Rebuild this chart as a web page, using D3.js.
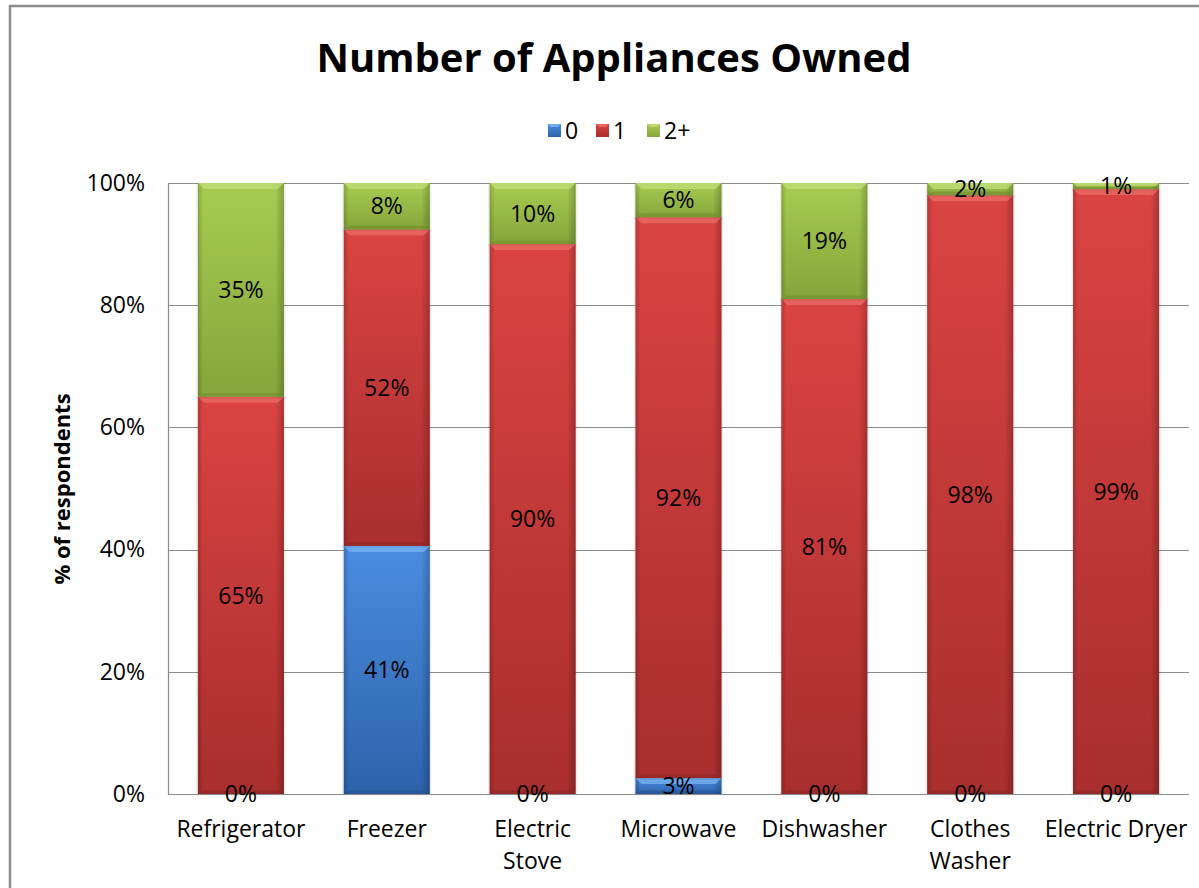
<!DOCTYPE html>
<html>
<head>
<meta charset="utf-8">
<script src="https://cdn.jsdelivr.net/npm/d3@7/dist/d3.min.js"></script>
<style>
  html, body { margin: 0; padding: 0; background: #fff; }
  svg { display: block; font-family: "Open Sans", Lato, sans-serif; }
</style>
</head>
<body>
<svg id="chart" width="1199" height="888"></svg>
<script>
// ---- data ----
const categories = ["Refrigerator", "Freezer", "Electric Stove", "Microwave", "Dishwasher", "Clothes Washer", "Electric Dryer"];
const categoryLines = [["Refrigerator"], ["Freezer"], ["Electric", "Stove"], ["Microwave"], ["Dishwasher"], ["Clothes", "Washer"], ["Electric Dryer"]];
const seriesNames = ["0", "1", "2+"];
const values0 = [0.000, 0.406, 0.000, 0.026, 0.000, 0.000, 0.000];
const values1 = [0.650, 0.518, 0.900, 0.918, 0.810, 0.980, 0.990];
const values2 = [0.350, 0.076, 0.100, 0.056, 0.190, 0.020, 0.010];
const yTicks = [0, 0.2, 0.4, 0.6, 0.8, 1.0];

const W = 1199, H = 888;
const FONT = 23;
const svg = d3.select("#chart");
const defs = svg.append("defs");

const palette = {
  "0":  { light: "#4a8de0", dark: "#2c62aa", top: "#7ab6f4", bottom: "#244f8a" },
  "1":  { light: "#da4442", dark: "#a92e2e", top: "#ec6e69", bottom: "#8a2424" },
  "2+": { light: "#a8cc52", dark: "#86a53a", top: "#c2df7c", bottom: "#6d8a2c" }
};

seriesNames.forEach((s, i) => {
  const c = palette[s];
  const g = defs.append("linearGradient").attr("id", "vg" + i)
    .attr("x1", 0).attr("y1", 0).attr("x2", 0).attr("y2", 1);
  g.append("stop").attr("offset", "0%").attr("stop-color", c.light);
  g.append("stop").attr("offset", "100%").attr("stop-color", c.dark);
});
const hg = defs.append("linearGradient").attr("id", "hshade")
  .attr("x1", 0).attr("y1", 0).attr("x2", 1).attr("y2", 0);
hg.append("stop").attr("offset", "0%").attr("stop-color", "#000").attr("stop-opacity", 0.18);
hg.append("stop").attr("offset", "6%").attr("stop-color", "#000").attr("stop-opacity", 0.0);
hg.append("stop").attr("offset", "90%").attr("stop-color", "#000").attr("stop-opacity", 0.0);
hg.append("stop").attr("offset", "100%").attr("stop-color", "#000").attr("stop-opacity", 0.22);

// chart border
svg.append("rect").attr("x", 10).attr("y", 6).attr("width", 1220).attr("height", 920)
  .attr("fill", "none").attr("stroke", "#8c8c8c").attr("stroke-width", 2.5);

// scales
const plotL = 168, plotR = 1189, plotT = 183, plotB = 794;
const x = d3.scaleBand().domain(categories).range([plotL, plotR]).paddingInner(0.41).paddingOuter(0.205);
const y = d3.scaleLinear().domain([0, 1]).range([plotB, plotT]);

// title
svg.append("text").attr("x", 614).attr("y", 72).attr("text-anchor", "middle")
  .attr("font-size", 40).attr("font-weight", "bold").attr("fill", "#000")
  .text("Number of Appliances Owned");

// gridlines
svg.append("g").selectAll("line").data(yTicks.filter(t => t > 0)).join("line")
  .attr("x1", plotL).attr("x2", plotR)
  .attr("y1", d => Math.round(y(d)) + 0.5).attr("y2", d => Math.round(y(d)) + 0.5)
  .attr("stroke", "#8c8c8c").attr("stroke-width", 1.2);

// y axis
const yAxis = d3.axisLeft(y).tickValues(yTicks).tickFormat(d3.format(".0%")).tickSize(0).tickPadding(23);
const yG = svg.append("g").attr("transform", `translate(${plotL},0)`).call(yAxis);
yG.select(".domain").attr("stroke", "#8c8c8c").attr("stroke-width", 1.2);
yG.selectAll("text").attr("font-size", FONT).attr("fill", "#000").attr("font-family", "'Open Sans', sans-serif");

// y title
svg.append("text").attr("transform", "translate(70,489) rotate(-90)").attr("text-anchor", "middle")
  .attr("font-size", 22).attr("font-weight", "bold").text("% of respondents");

// stack
const rows = categories.map((c, i) => ({ cat: c, "0": values0[i], "1": values1[i], "2+": values2[i] }));
const stacked = d3.stack().keys(seriesNames)(rows);

const barsG = svg.append("g");
stacked.forEach((layer, si) => {
  const c = palette[layer.key];
  const g = barsG.append("g");
  layer.forEach(d => {
    const x0 = x(d.data.cat), bw = x.bandwidth();
    const yT = y(d[1]), yB = y(d[0]);
    const h = yB - yT;
    if (h <= 0.01) return;
    const sg = g.append("g");
    sg.append("rect").attr("x", x0 - 1.5).attr("y", yT).attr("width", bw + 3).attr("height", h + 1.5)
      .attr("fill", "#000").attr("opacity", 0.08);
    sg.append("rect").attr("x", x0).attr("y", yT).attr("width", bw).attr("height", h)
      .attr("fill", `url(#vg${si})`);
    sg.append("rect").attr("x", x0).attr("y", yT).attr("width", bw).attr("height", h)
      .attr("fill", "url(#hshade)");
    const bev = Math.min(6, h / 2);
    sg.append("path")
      .attr("d", `M${x0},${yT} L${x0 + bw},${yT} L${x0 + bw - bev},${yT + bev} L${x0 + bev},${yT + bev} Z`)
      .attr("fill", c.top).attr("opacity", 0.7);
    sg.append("path")
      .attr("d", `M${x0},${yB} L${x0 + bw},${yB} L${x0 + bw - bev},${yB - bev * 0.6} L${x0 + bev},${yB - bev * 0.6} Z`)
      .attr("fill", c.bottom).attr("opacity", 0.5);
  });
});

// x axis baseline
svg.append("line").attr("x1", plotL).attr("x2", plotR).attr("y1", plotB + 0.5).attr("y2", plotB + 0.5)
  .attr("stroke", "#8c8c8c").attr("stroke-width", 1.2);

// data labels
const fmt = d3.format(".0%");
const labG = svg.append("g");
stacked.forEach(layer => {
  layer.forEach(d => {
    const v = d[1] - d[0];
    labG.append("text")
      .attr("x", x(d.data.cat) + x.bandwidth() / 2)
      .attr("y", (y(d[0]) + y(d[1])) / 2)
      .attr("dy", "0.36em").attr("text-anchor", "middle")
      .attr("font-size", FONT).attr("fill", "#000")
      .text(fmt(v));
  });
});

// x labels
const xl = svg.append("g");
categories.forEach((c, i) => {
  const t = xl.append("text").attr("x", x(c) + x.bandwidth() / 2).attr("y", 837)
    .attr("text-anchor", "middle").attr("font-size", FONT).attr("fill", "#000");
  categoryLines[i].forEach((ln, j) => {
    t.append("tspan").attr("x", x(c) + x.bandwidth() / 2).attr("dy", j === 0 ? 0 : 32).text(ln);
  });
});

// legend
const legendX = [548, 596, 647];
const lg = svg.append("g");
seriesNames.forEach((s, i) => {
  const c = palette[s];
  lg.append("rect").attr("x", legendX[i]).attr("y", 124).attr("width", 13).attr("height", 13)
    .attr("fill", `url(#vg${i})`);
  lg.append("path")
    .attr("d", `M${legendX[i]},124 L${legendX[i] + 13},124 L${legendX[i] + 10},127 L${legendX[i] + 3},127 Z`)
    .attr("fill", c.top).attr("opacity", 0.8);
  lg.append("text").attr("x", legendX[i] + 17).attr("y", 139).attr("font-size", FONT).text(s);
});
</script>
</body>
</html>
